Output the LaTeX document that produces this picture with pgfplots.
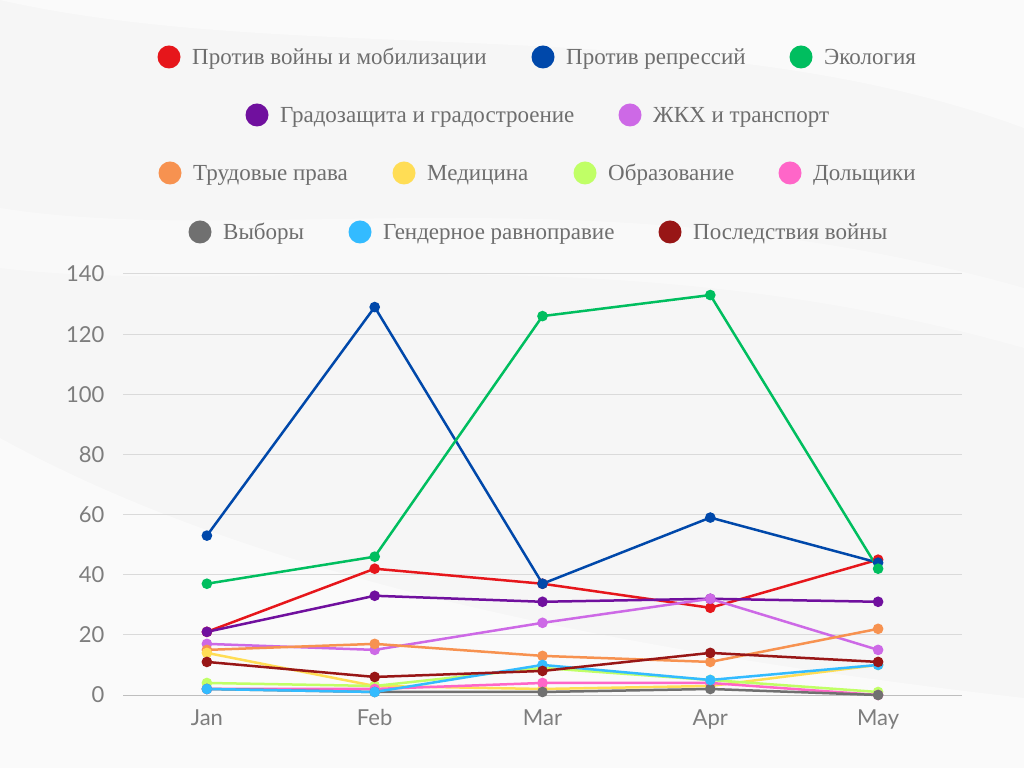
\documentclass[border=0pt]{standalone}
\usepackage{pgfplots}
\pgfplotsset{compat=1.18}
\usepackage{pgfplotstable}
\usepackage{fontspec}
\setmainfont{Liberation Serif}
\newfontfamily\tickfont{Lato}

\definecolor{cRed}{RGB}{230,22,27}
\definecolor{cBlue}{RGB}{0,72,170}
\definecolor{cGreen}{RGB}{0,190,95}
\definecolor{cPurple}{RGB}{112,16,158}
\definecolor{cViolet}{RGB}{205,105,230}
\definecolor{cOrange}{RGB}{247,146,80}
\definecolor{cYellow}{RGB}{255,221,85}
\definecolor{cLGreen}{RGB}{192,255,102}
\definecolor{cPink}{RGB}{255,102,200}
\definecolor{cGray}{RGB}{112,112,112}
\definecolor{cLBlue}{RGB}{51,187,255}
\definecolor{cDRed}{RGB}{152,22,22}
\definecolor{legtext}{RGB}{110,110,110}
\definecolor{ticktext}{RGB}{125,125,125}
\definecolor{bgc}{RGB}{246,246,246}

\pgfplotstableread{
x red blue green purple violet orange yellow lgreen pink gray lblue dred
0 21 53 37 21 17 15 14 4 2 2 2 11
1 42 129 46 33 15 17 3 3 2 1 1 6
2 37 37 126 31 24 13 2 9 4 1 10 8
3 29 59 133 32 32 11 3 5 4 2 5 14
4 45 44 42 31 15 22 10 1 0 0 10 11
}\datatable

\newcommand{\legitem}[4]{%
  \fill[#1] (#2bp,768bp-#3bp) circle (11.5bp);
  \node[anchor=base west,inner sep=0pt,text=legtext,font=\fontsize{23bp}{27bp}\selectfont] at (#2bp+23bp,768bp-#3bp-7.5bp) {#4};}

\begin{document}
\begin{tikzpicture}
\fill[bgc] (0,0) rectangle (1024bp,768bp);
\fill[white,opacity=0.5] (0,768bp) .. controls (300bp,700bp) and (700bp,760bp) .. (1024bp,640bp) -- (1024bp,768bp) -- cycle;
\fill[white,opacity=0.45] (0,330bp) .. controls (200bp,220bp) and (500bp,130bp) .. (1024bp,70bp) -- (1024bp,0) -- (0,0) -- cycle;
\fill[white,opacity=0.35] (0,560bp) .. controls (250bp,520bp) and (600bp,600bp) .. (1024bp,480bp) -- (1024bp,420bp) .. controls (600bp,540bp) and (250bp,470bp) .. (0,500bp) -- cycle;

\legitem{cRed}{169}{57}{Против войны и мобилизации}
\legitem{cBlue}{543}{57}{Против репрессий}
\legitem{cGreen}{801}{57}{Экология}
\legitem{cPurple}{257}{115}{Градозащита и градостроение}
\legitem{cViolet}{630}{115}{ЖКХ и транспорт}
\legitem{cOrange}{170}{173}{Трудовые права}
\legitem{cYellow}{404}{173}{Медицина}
\legitem{cLGreen}{585}{173}{Образование}
\legitem{cPink}{790}{173}{Дольщики}
\legitem{cGray}{200}{232}{Выборы}
\legitem{cLBlue}{360}{232}{Гендерное равноправие}
\legitem{cDRed}{670}{232}{Последствия войны}

\begin{axis}[
  at={(123bp,73bp)}, anchor=south west,
  scale only axis, width=839bp, height=421bp,
  xmin=-0.5, xmax=4.5, ymin=0, ymax=140,
  xtick={0,1,2,3,4}, xticklabels={Jan,Feb,Mar,Apr,May},
  ytick={0,20,...,140},
  axis x line*=bottom, axis y line*=left,
  x axis line style={draw={rgb,255:red,190;green,190;blue,190},line width=1bp,-},
  y axis line style={draw=none,-},
  ymajorgrids, grid style={draw={rgb,255:red,218;green,218;blue,218},line width=1bp},
  major tick length=0pt,
  tick label style={font=\tickfont\fontsize{22bp}{26bp}\selectfont, text=ticktext},
  /pgf/number format/assume math mode=true,
  yticklabel style={xshift=-15bp},
  xticklabel style={yshift=-11bp},
  every axis plot/.append style={line width=2.5bp, mark=*, mark size=4bp, mark options={solid}},
  clip=false,
]
\addplot[cRed, mark options={fill=cRed}] table[x=x,y=red]{\datatable};
\addplot[cBlue, mark options={fill=cBlue}] table[x=x,y=blue]{\datatable};
\addplot[cGreen, mark options={fill=cGreen}] table[x=x,y=green]{\datatable};
\addplot[cPurple, mark options={fill=cPurple}] table[x=x,y=purple]{\datatable};
\addplot[cViolet, mark options={fill=cViolet}] table[x=x,y=violet]{\datatable};
\addplot[cOrange, mark options={fill=cOrange}] table[x=x,y=orange]{\datatable};
\addplot[cYellow, mark options={fill=cYellow}] table[x=x,y=yellow]{\datatable};
\addplot[cLGreen, mark options={fill=cLGreen}] table[x=x,y=lgreen]{\datatable};
\addplot[cPink, mark options={fill=cPink}] table[x=x,y=pink]{\datatable};
\addplot[cGray, mark options={fill=cGray}] table[x=x,y=gray]{\datatable};
\addplot[cLBlue, mark options={fill=cLBlue}] table[x=x,y=lblue]{\datatable};
\addplot[cDRed, mark options={fill=cDRed}] table[x=x,y=dred]{\datatable};
\end{axis}
\pgfresetboundingbox
\useasboundingbox (0,0) rectangle (1024bp,768bp);
\end{tikzpicture}
\end{document}
